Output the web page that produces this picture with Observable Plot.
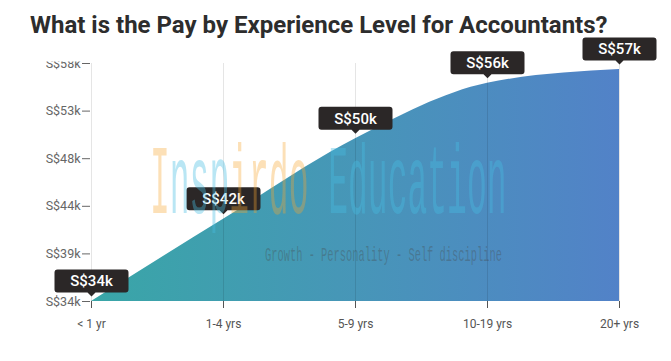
<!DOCTYPE html>
<html>
<head>
<meta charset="utf-8">
<script src="https://cdn.jsdelivr.net/npm/d3@7"></script>
<script src="https://cdn.jsdelivr.net/npm/@observablehq/plot@0.6"></script>
<style>
  body { margin: 0; background: #fff; }
  #wrap { position: relative; width: 671px; height: 361px; overflow: hidden; font-family: Roboto, sans-serif; }
  #title { position: absolute; left: 30px; top: 11px; margin: 0; font: 700 24px Roboto, sans-serif; color: #2d2d2d; white-space: nowrap; z-index: 2; }
  #chart { position: absolute; left: 0; top: 0; }
  .wm { position: absolute; pointer-events: none; white-space: nowrap; transform-origin: left top; font-family: "Liberation Mono", monospace; z-index: 3; }
  #wm1 { left: 150px; top: 150px; font-size: 33px; line-height: 26px; transform: scaleY(3); }
  #wm2 { left: 265px; top: 246px; font-size: 10.4px; line-height: 10.4px; transform: scaleY(1.9); color: rgba(70,70,70,0.35); }
  .c1 { color: rgba(70,190,225,0.38); }
  .c2 { color: rgba(245,165,50,0.35); }
  g[aria-label="y-axis tick label"] text:last-child { clip-path: inset(6px 0 0 0); }
</style>
</head>
<body>
<div id="wrap">
  <div id="title">What is the Pay by Experience Level for Accountants?</div>
  <div id="chart"></div>
  <div class="wm" id="wm1"><span class="c2">I</span><span class="c1">nsp</span><span class="c2">irdo</span> <span class="c1">Education</span></div>
  <div class="wm" id="wm2">Growth - Personality - Self discipline</div>
</div>
<script>
const categories = ["< 1 yr", "1-4 yrs", "5-9 yrs", "10-19 yrs", "20+ yrs"];
const pay = [34000, 42300, 50400, 56000, 57400];
const payLabels = ["S$34k", "S$42k", "S$50k", "S$56k", "S$57k"];
const yTicks = [34000, 38800, 43600, 48400, 53200, 58000];
const yTickLabels = ["S$34k", "S$39k", "S$44k", "S$48k", "S$53k", "S$58k"];

const data = categories.map((c, i) => ({exp: c, pay: pay[i], label: payLabels[i]}));

// callout box (rounded rect with a downward pointer) drawn relative to the point
const callout = {
  draw(ctx) {
    const w = 37, t = -32, b = -9, r = 3, p = 4;
    ctx.moveTo(-w + r, t);
    ctx.lineTo(w - r, t);
    ctx.arcTo(w, t, w, t + r, r);
    ctx.lineTo(w, b - r);
    ctx.arcTo(w, b, w - r, b, r);
    ctx.lineTo(p, b);
    ctx.lineTo(0, b + p);
    ctx.lineTo(-p, b);
    ctx.lineTo(-w + r, b);
    ctx.arcTo(-w, b, -w, b - r, r);
    ctx.lineTo(-w, t + r);
    ctx.arcTo(-w, t, -w + r, t, r);
    ctx.closePath();
  }
};

const gradientDefs = () => {
  const ns = "http://www.w3.org/2000/svg";
  const defs = document.createElementNS(ns, "defs");
  defs.innerHTML = `<linearGradient id="payGrad" x1="0" y1="0" x2="1" y2="0">
    <stop offset="0" stop-color="#39a6a7"/>
    <stop offset="0.5" stop-color="#4796b8"/>
    <stop offset="1" stop-color="#5282c8"/>
  </linearGradient>`;
  return defs;
};

const chart = Plot.plot({
  width: 671,
  height: 361,
  marginLeft: 90,
  marginRight: 51,
  marginTop: 63,
  marginBottom: 60,
  style: {fontFamily: "Roboto, sans-serif", background: "transparent", overflow: "visible"},
  x: {type: "point", domain: categories, padding: 0, label: null},
  y: {domain: [34000, 58000], label: null},
  marks: [
    gradientDefs,
    Plot.areaY(data, {x: "exp", y1: 34000, y2: "pay", curve: "monotone-x", fill: "url(#payGrad)"}),
    Plot.gridX({stroke: "#000", strokeOpacity: 0.1}),
    Plot.axisX({tickSize: 7, tickPadding: 11, fontSize: 12, color: "#555"}),
    Plot.axisY({ticks: yTicks, tickFormat: d => yTickLabels[yTicks.indexOf(d)], tickSize: 8, tickPadding: 2, fontSize: 12.5, color: "#666"}),
    Plot.dot(data, {x: "exp", y: "pay", symbol: callout, r: 5, fill: "#2b2727", stroke: "none"}),
    Plot.text(data, {x: "exp", y: "pay", text: "label", dy: -20, fill: "#fff", fontSize: 15, fontWeight: 500})
  ]
});
document.getElementById("chart").appendChild(chart);
</script>
</body>
</html>
